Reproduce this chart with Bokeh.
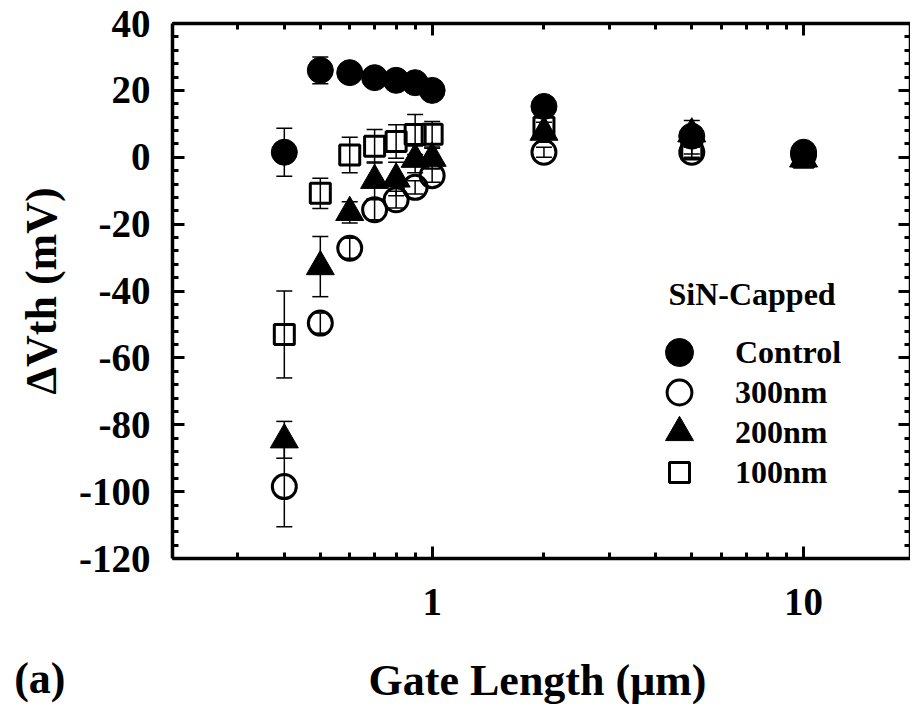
from bokeh.plotting import figure
from bokeh.layouts import column
from bokeh.models import (ColumnDataSource, Whisker, TeeHead, FixedTicker, LogAxis,
                          LinearAxis, Legend, LegendItem, Label, Range1d)
from bokeh.embed import file_html
from bokeh.resources import INLINE

# ---------------- data ----------------
gate_length = [0.4, 0.5, 0.6, 0.7, 0.8, 0.9, 1.0, 2.0, 5.0, 10.0]

control = [1.5, 26.0, 25.3, 23.8, 23.0, 22.3, 20.0, 15.2, 6.3, 1.5]
control_err = [7.2, 4.0, 1.5, 1.5, 1.5, 1.5, 1.5, 1.5, 2.0, 1.0]

nm300 = [-98.5, -49.6, -27.2, -15.7, -12.7, -9.0, -5.5, 1.5, 1.5, 0.8]
nm300_err = [12.0, 3.0, 3.0, 3.0, 2.5, 2.0, 2.0, 1.5, 1.5, 1.0]

nm200 = [-84.5, -32.7, -16.5, -6.9, -6.5, -0.6, -0.3, 7.5, 7.0, -0.5]
nm200_err = [5.5, 9.0, 3.2, 5.5, 5.0, 4.0, 3.0, 3.0, 4.0, 1.0]

nm100 = [-53.0, -10.8, 0.7, 3.3, 4.7, 6.8, 6.9, 9.0, 2.5, 0.0]
nm100_err = [13.0, 4.5, 5.3, 5.0, 5.0, 6.0, 3.8, 3.0, 1.5, 1.0]

series_labels = ["Control", "300nm", "200nm", "100nm"]
legend_title = "SiN-Capped"
panel_tag = "(a)"
x_title = "Gate Length (\u03bcm)"
y_title = "\u0394Vth (mV)"

x_ticks = [1, 10]
x_tick_labels = ["1", "10"]
x_minor_ticks = [0.3, 0.4, 0.5, 0.6, 0.7, 0.8, 0.9, 2, 3, 4, 5, 6, 7, 8, 9]
y_ticks = [-120, -100, -80, -60, -40, -20, 0, 20, 40]
y_tick_labels = ["-120", "-100", "-80", "-60", "-40", "-20", "0", "20", "40"]
y_minor_ticks = list(range(-120, 41, 4))

FONT = "Liberation Serif"

TOP_H = 644
BOT_H = 60
W = 910

p = figure(width=W, height=TOP_H, x_axis_type="log",
           x_range=Range1d(0.2, 19.4), y_range=Range1d(-120, 40),
           output_backend="svg", toolbar_location=None,
           min_border_left=172, min_border_right=0,
           min_border_top=23, min_border_bottom=TOP_H - 558)
p.xgrid.visible = False
p.ygrid.visible = False
p.outline_line_color = None
p.background_fill_color = "white"
p.border_fill_color = "white"

xt = FixedTicker(ticks=x_ticks, minor_ticks=x_minor_ticks)
yt = FixedTicker(ticks=y_ticks, minor_ticks=y_minor_ticks)


def style_axis(ax):
    ax.axis_line_width = 3.5
    ax.axis_line_color = "black"
    ax.major_tick_in = 12
    ax.major_tick_out = 0
    ax.minor_tick_in = 6
    ax.minor_tick_out = 0
    ax.major_tick_line_width = 3
    ax.minor_tick_line_width = 3
    ax.major_tick_line_color = "black"
    ax.minor_tick_line_color = "black"
    ax.major_label_text_font = FONT
    ax.major_label_text_font_style = "bold"
    ax.major_label_text_color = "black"
    ax.axis_label_text_font = FONT
    ax.axis_label_text_font_style = "bold"
    ax.axis_label_text_color = "black"


xa = p.xaxis[0]
xa.ticker = xt
style_axis(xa)
xa.major_label_overrides = {t: s for t, s in zip(x_ticks, x_tick_labels)}
xa.major_label_text_font_size = "39px"
xa.major_label_standoff = 30

ya = p.yaxis[0]
ya.ticker = yt
style_axis(ya)
ya.major_label_overrides = {t: s for t, s in zip(y_ticks, y_tick_labels)}
ya.major_label_text_font_size = "39px"
ya.major_label_standoff = 22
ya.axis_label = y_title
ya.axis_label_text_font_size = "44px"
ya.axis_label_standoff = 10

top = LogAxis(ticker=xt)
style_axis(top)
top.major_label_overrides = {t: "" for t in x_ticks}
top.major_label_text_font_size = "1px"
top.major_label_standoff = 0
p.add_layout(top, "above")

right = LinearAxis(ticker=yt)
style_axis(right)
right.major_label_overrides = {t: "" for t in y_ticks}
right.major_label_text_font_size = "1px"
right.major_label_standoff = 0
p.add_layout(right, "right")


def add_whiskers(vals, errs):
    src = ColumnDataSource(dict(
        x=gate_length,
        lo=[v - e for v, e in zip(vals, errs)],
        hi=[v + e for v, e in zip(vals, errs)],
    ))
    w = Whisker(source=src, base="x", lower="lo", upper="hi", dimension="height",
                line_width=1.5, line_color="black", level="underlay",
                upper_head=TeeHead(size=16, line_width=1.5, line_color="black"),
                lower_head=TeeHead(size=16, line_width=1.5, line_color="black"))
    p.add_layout(w)


for vals, errs in [(nm100, nm100_err), (nm200, nm200_err), (nm300, nm300_err), (control, control_err)]:
    add_whiskers(vals, errs)

r100 = p.scatter(gate_length, nm100, marker="square", size=20, fill_color=None,
                 line_color="black", line_width=3)
r200 = p.scatter(gate_length, nm200, marker="triangle", size=28, fill_color="black",
                 line_color="black", line_width=1)
r300 = p.scatter(gate_length, nm300, marker="circle", size=24, fill_color=None,
                 line_color="black", line_width=3)
rctl = p.scatter(gate_length, control, marker="circle", size=26, fill_color="black",
                 line_color="black", line_width=1)

# legend: one box per entry so each marker can have its own size
frame_left, frame_bottom = 172, 558
legend_specs = [(rctl, series_labels[0], 70, 352),
                (r300, series_labels[1], 62, 392),
                (r200, series_labels[2], 70, 432),
                (r100, series_labels[3], 50, 472)]
for rend, lab, gw, cy in legend_specs:
    leg = Legend(items=[LegendItem(label=lab, renderers=[rend])],
                 location=(679 - frame_left - gw // 2, (frame_bottom - cy) - gw // 2),
                 glyph_width=gw, glyph_height=gw,
                 label_standoff=735 - (679 + gw // 2),
                 padding=0, margin=0, spacing=0,
                 border_line_color=None, background_fill_alpha=0,
                 label_text_font=FONT, label_text_font_style="bold",
                 label_text_font_size="32px", label_text_color="black")
    p.add_layout(leg)

p.add_layout(Label(x=668 - frame_left, y=frame_bottom - 293, x_units="screen", y_units="screen",
                   text=legend_title, text_font=FONT, text_font_style="bold",
                   text_font_size="32px", text_baseline="middle", text_align="left",
                   text_color="black"))

# bottom strip: x-axis title (inside its frame) and panel tag (as its left-axis label)
q = figure(width=W, height=BOT_H, x_range=Range1d(0, 1), y_range=Range1d(0, 1),
           output_backend="svg", toolbar_location=None,
           x_axis_location=None, y_axis_location="left",
           min_border_left=172, min_border_right=0,
           min_border_top=8, min_border_bottom=0)
q.xgrid.visible = False
q.ygrid.visible = False
q.outline_line_color = None
q.background_fill_color = "white"
q.border_fill_color = "white"

qa = q.yaxis[0]
qa.ticker = FixedTicker(ticks=[])
qa.axis_line_color = None
qa.major_tick_line_color = None
qa.minor_tick_line_color = None
qa.major_tick_in = 0
qa.major_tick_out = 0
qa.minor_tick_in = 0
qa.minor_tick_out = 0
qa.major_label_standoff = 0
qa.axis_label = panel_tag
qa.axis_label_text_font = FONT
qa.axis_label_text_font_style = "bold"
qa.axis_label_text_font_size = "44px"
qa.axis_label_text_color = "black"
qa.axis_label_standoff = 107
try:
    qa.axis_label_orientation = "horizontal"
except Exception:
    pass

q.add_layout(Label(x=537 - 172, y=TOP_H + BOT_H - 680, x_units="screen", y_units="screen",
                   text=x_title, text_font=FONT, text_font_style="bold",
                   text_font_size="44px", text_baseline="middle", text_align="center",
                   text_color="black"))

layout = column(p, q, spacing=0)
open("out.html", "w").write(file_html(layout, INLINE))
